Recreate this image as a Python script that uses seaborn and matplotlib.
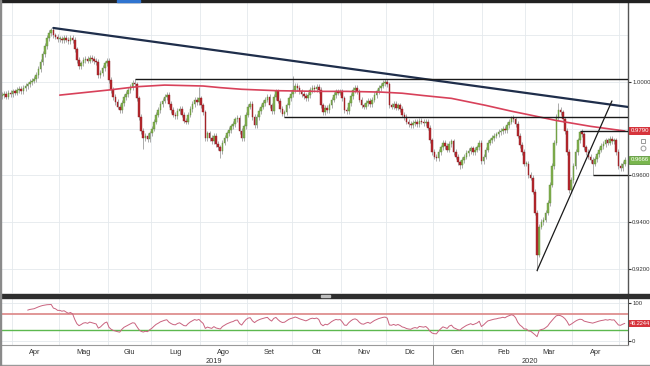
import numpy as np
import pandas as pd
import matplotlib
matplotlib.use("Agg")
import matplotlib.pyplot as plt
import matplotlib.transforms as mtransforms
from matplotlib.patches import Rectangle
from matplotlib.lines import Line2D
import seaborn as sns

# ---------------- data ----------------
first_open = 0.9940
close_mar19 = [0.9945, 0.9950, 0.9938, 0.9952, 0.9948]
close_apr19 = [0.9960, 0.9955, 0.9965, 0.9972, 0.9962, 0.9975, 0.9982, 0.9990, 1.0000, 1.0006,
               1.0012, 1.0030, 1.0055, 1.0085, 1.0120, 1.0155, 1.0190, 1.0210, 1.0222, 1.0200,
               1.0195, 1.0185]
close_may19 = [1.0185, 1.0180, 1.0190, 1.0182, 1.0175, 1.0188, 1.0180, 1.0140, 1.0095, 1.0068,
               1.0080, 1.0095, 1.0100, 1.0092, 1.0105, 1.0098, 1.0090, 1.0085, 1.0030, 1.0040,
               1.0060, 1.0080, 1.0090]
close_jun19 = [1.0010, 0.9965, 0.9935, 0.9915, 0.9895, 0.9880, 0.9910, 0.9935, 0.9950, 0.9965,
               0.9980, 0.9995, 0.9990, 0.9930, 0.9850, 0.9790, 0.9760, 0.9770, 0.9755, 0.9780]
close_jul19 = [0.9800, 0.9830, 0.9860, 0.9880, 0.9905, 0.9920, 0.9935, 0.9945, 0.9905, 0.9880,
               0.9860, 0.9855, 0.9875, 0.9885, 0.9860, 0.9835, 0.9830, 0.9860, 0.9885, 0.9905,
               0.9925, 0.9915, 0.9930]
close_aug19 = [0.9900, 0.9870, 0.9760, 0.9780, 0.9760, 0.9745, 0.9770, 0.9735, 0.9720, 0.9705,
               0.9740, 0.9760, 0.9780, 0.9795, 0.9810, 0.9820, 0.9840, 0.9845, 0.9790, 0.9760,
               0.9810, 0.9860]
close_sep19 = [0.9895, 0.9905, 0.9850, 0.9815, 0.9850, 0.9875, 0.9895, 0.9910, 0.9925, 0.9935,
               0.9900, 0.9875, 0.9935, 0.9960, 0.9920, 0.9885, 0.9865, 0.9870, 0.9900, 0.9930,
               0.9950]
close_oct19 = [0.9965, 0.9985, 0.9975, 0.9960, 0.9950, 0.9940, 0.9930, 0.9945, 0.9965, 0.9975,
               0.9970, 0.9980, 0.9965, 0.9900, 0.9870, 0.9890, 0.9880, 0.9900, 0.9925, 0.9945,
               0.9960, 0.9955, 0.9960]
close_nov19 = [0.9930, 0.9880, 0.9875, 0.9910, 0.9940, 0.9965, 0.9975, 0.9960, 0.9925, 0.9900,
               0.9895, 0.9910, 0.9920, 0.9905, 0.9925, 0.9945, 0.9960, 0.9975, 0.9985, 0.9995,
               1.0000]
close_dec19 = [0.9990, 0.9900, 0.9895, 0.9905, 0.9890, 0.9900, 0.9885, 0.9860, 0.9850, 0.9830,
               0.9820, 0.9815, 0.9825, 0.9830, 0.9820, 0.9835, 0.9830, 0.9825, 0.9830, 0.9805,
               0.9750, 0.9700]
close_jan20 = [0.9680, 0.9675, 0.9700, 0.9720, 0.9740, 0.9725, 0.9710, 0.9735, 0.9745, 0.9700,
               0.9680, 0.9655, 0.9645, 0.9665, 0.9680, 0.9695, 0.9705, 0.9715, 0.9700, 0.9710,
               0.9720, 0.9740, 0.9660]
close_feb20 = [0.9680, 0.9710, 0.9740, 0.9750, 0.9760, 0.9770, 0.9775, 0.9785, 0.9790, 0.9800,
               0.9795, 0.9815, 0.9830, 0.9845, 0.9840, 0.9820, 0.9770, 0.9730, 0.9700, 0.9650]
close_mar20 = [0.9650, 0.9600, 0.9590, 0.9530, 0.9440, 0.9260, 0.9380, 0.9400, 0.9410, 0.9440,
               0.9480, 0.9560, 0.9640, 0.9740, 0.9850, 0.9880, 0.9870, 0.9840, 0.9790, 0.9700,
               0.9535, 0.9580]
close_apr20 = [0.9640, 0.9700, 0.9750, 0.9785, 0.9775, 0.9720, 0.9700, 0.9680, 0.9665, 0.9650,
               0.9670, 0.9690, 0.9710, 0.9725, 0.9735, 0.9750, 0.9740, 0.9755, 0.9745, 0.9750,
               0.9700, 0.9640]
close_may20 = [0.9630, 0.9650, 0.9666]

high_marks = {"2019-04-26": 1.0232, "2019-06-19": 1.0013, "2019-07-31": 0.9980,
              "2019-10-01": 1.0027, "2019-11-29": 1.0013, "2020-02-20": 0.9855,
              "2020-03-23": 0.9912, "2020-04-06": 0.9792}
low_marks = {"2019-06-25": 0.9712, "2019-08-14": 0.9675, "2019-09-25": 0.9852,
             "2020-01-17": 0.9628, "2020-03-09": 0.9191, "2020-04-14": 0.9600}

ma_dates = ["2019-05-01", "2019-06-03", "2019-06-20", "2019-07-09", "2019-08-02", "2019-08-14",
            "2019-08-28", "2019-09-19", "2019-10-17", "2019-11-05", "2019-11-27", "2019-12-11",
            "2019-12-25", "2020-01-13", "2020-02-04", "2020-02-20", "2020-03-03", "2020-03-20",
            "2020-04-13", "2020-05-05"]
ma_values = [0.9944, 0.9966, 0.9980, 0.9987, 0.9983, 0.9976, 0.9969, 0.9963, 0.9960, 0.9960,
             0.9957, 0.9952, 0.9942, 0.9930, 0.9900, 0.9875, 0.9860, 0.9835, 0.9810, 0.9790]

trend_down = [("2019-04-26", 1.0232), ("2020-05-05", 0.9895)]
trend_up = [("2020-03-09", 0.9191), ("2020-04-27", 0.9919)]
resist_1 = ("2019-06-19", 1.0013)
resist_2 = ("2019-09-25", 0.9852)
box_top = ("2020-04-06", 0.9790)
box_bottom = ("2020-04-14", 0.9600)

month_labels = ["Apr", "Mag", "Giu", "Lug", "Ago", "Set", "Ott", "Nov", "Dic",
                "Gen", "Feb", "Mar", "Apr"]
year_labels = ["2019", "2020"]
price_ticks = [0.9200, 0.9400, 0.9600, 0.9800, 1.0000]
price_tick_labels = ["0.9200", "0.9400", "0.9600", "", "1.0000"]
price_grid = [0.92, 0.94, 0.96, 0.98, 1.00, 1.02]
rsi_ticks = [0, 100]
rsi_bands = [70, 30]
last_price_label = "0.9666"
last_price_value = 0.9666
ma_label = "0.9790"
ma_label_value = 0.9790
rsi_label = "46.2244"
rsi_label_value = 46.2244
wick = 0.0012

# ---------------- preparation ----------------
sns.set_style("white")
narrow = ["Noto Sans ExtraCondensed", "Noto Sans Condensed", "Liberation Sans Narrow",
          "Liberation Sans", "DejaVu Sans"]
plt.rcParams["font.family"] = narrow

close = np.array(close_mar19 + close_apr19 + close_may19 + close_jun19 + close_jul19 +
                 close_aug19 + close_sep19 + close_oct19 + close_nov19 + close_dec19 +
                 close_jan20 + close_feb20 + close_mar20 + close_apr20 + close_may20)
dates = pd.bdate_range("2019-03-25", "2020-05-05")
n = min(len(close), len(dates))
close = close[:n]
dates = dates[:n]
pos = np.arange(n)
idx = {d.strftime("%Y-%m-%d"): i for i, d in enumerate(dates)}

opn = np.r_[first_open, close[:-1]]
hi = np.maximum(opn, close) + wick
lo = np.minimum(opn, close) - wick
for d, v in high_marks.items():
    if d in idx:
        hi[idx[d]] = max(v, max(opn[idx[d]], close[idx[d]]))
for d, v in low_marks.items():
    if d in idx:
        lo[idx[d]] = min(v, min(opn[idx[d]], close[idx[d]]))

s = pd.Series(close)
delta = s.diff()
gain = delta.clip(lower=0)
loss = (-delta).clip(lower=0)
ag = gain.ewm(alpha=1 / 14, adjust=False, min_periods=12).mean()
al = loss.ewm(alpha=1 / 14, adjust=False, min_periods=12).mean()
rsi = (100 - 100 / (1 + ag / al)).to_numpy()

month_starts = [i for i in range(1, n) if dates[i].month != dates[i - 1].month]
jan_start = [i for i in month_starts if dates[i].month == 1][0]

W, H = 650, 366
fig = plt.figure(figsize=(W / 100, H / 100), dpi=100)
fig.patch.set_facecolor("white")
ax = fig.add_axes([0, 73 / H, 628 / W, 293 / H])
ax2 = fig.add_axes([0, 21 / H, 628 / W, 47 / H], sharex=ax)

xl, xr = -0.93, 292.5
ax.set_xlim(xl, xr)
ax.set_ylim(0.9095, 1.0352)
ax2.set_ylim(-10.5, 113.2)

# grid
for g in price_grid:
    ax.axhline(g, color="#e4e9ed", lw=0.6, zorder=0)
for m in month_starts:
    ax.axvline(m - 0.5, color="#e4e9ed", lw=0.6, zorder=0)
    ax2.axvline(m - 0.5, color="#e4e9ed", lw=0.6, zorder=0)
for g in rsi_ticks:
    ax2.axhline(g, color="#e4e9ed", lw=0.6, zorder=0)

# candles
up = close >= opn
ax.vlines(pos, lo, hi, color="#9d9d9d", lw=0.6, zorder=2)
body_bottom = np.minimum(opn, close)
body_h = np.maximum(np.abs(close - opn), 0.0004)
ax.bar(pos[up], body_h[up], bottom=body_bottom[up], width=0.75, color="#83b150",
       edgecolor="#5d8c37", linewidth=0.3, zorder=3)
ax.bar(pos[~up], body_h[~up], bottom=body_bottom[~up], width=0.75, color="#b8282e",
       edgecolor="#8a1d22", linewidth=0.3, zorder=3)

# moving average
ma_pos = [idx[d] for d in ma_dates]
sns.lineplot(x=ma_pos, y=ma_values, ax=ax, color="#d8415a", lw=1.2, zorder=4)

# trend lines
p0, v0 = idx[trend_down[0][0]], trend_down[0][1]
p1, v1 = idx[trend_down[1][0]], trend_down[1][1]
slope = (v1 - v0) / (p1 - p0)
sns.lineplot(x=[p0, xr], y=[v0, v0 + slope * (xr - p0)], ax=ax, color="#1f2e4b", lw=1.6, zorder=5)
sns.lineplot(x=[idx[trend_up[0][0]], idx[trend_up[1][0]]], y=[trend_up[0][1], trend_up[1][1]],
             ax=ax, color="#1a1a1a", lw=0.9, zorder=5)
for d, v in (resist_1, resist_2, box_top, box_bottom):
    ax.hlines(v, idx[d], xr, colors="#1a1a1a", lw=1.0, zorder=5)

# axes styling main
lab_fs = 4.3
for sp in ("top", "bottom"):
    ax.spines[sp].set_visible(False)
ax.spines["left"].set_color("#8c8c8c")
ax.spines["right"].set_color("#555555")
ax.spines["right"].set_linewidth(1.0)
ax.yaxis.set_ticks_position("right")
ax.set_yticks(price_ticks)
ax.set_yticklabels(price_tick_labels)
ax.tick_params(axis="y", which="both", left=False, right=True, length=2.2, width=0.8,
               pad=0.8, labelsize=lab_fs, colors="#333333", direction="out")
ax.tick_params(axis="x", bottom=False, labelbottom=False)
ax.set_xlabel("")
ax.set_ylabel("")

tr_main = mtransforms.blended_transform_factory(ax.transAxes, ax.transData)
ax.text(1.005, ma_label_value, ma_label, transform=tr_main, fontsize=lab_fs, color="white",
        va="center", ha="left", clip_on=False, zorder=10,
        bbox=dict(boxstyle="square,pad=0.3", fc="#d6343c", ec="none"))
ax.text(1.005, last_price_value, last_price_label, transform=tr_main, fontsize=lab_fs,
        color="white", va="center", ha="left", clip_on=False, zorder=10,
        bbox=dict(boxstyle="square,pad=0.3", fc="#79b64d", ec="#4d8a2c", lw=0.5))

# RSI panel
sns.lineplot(x=pos, y=rsi, ax=ax2, color="#c9637f", lw=0.7, zorder=4)
ax2.axhline(rsi_bands[0], color="#dc8585", lw=1.2, zorder=3)
ax2.axhline(rsi_bands[1], color="#5cb84f", lw=1.0, zorder=3)
ax2.spines["top"].set_visible(False)
ax2.spines["left"].set_color("#8c8c8c")
ax2.spines["right"].set_color("#555555")
ax2.spines["bottom"].set_color("#9a9a9a")
ax2.yaxis.set_ticks_position("right")
ax2.set_yticks(rsi_ticks)
ax2.set_yticklabels([str(t) for t in rsi_ticks])
ax2.tick_params(axis="y", which="both", left=False, right=True, length=2.2, width=0.8,
                pad=0.8, labelsize=lab_fs, colors="#333333")
ax2.set_xticks([m - 0.5 for m in month_starts])
ax2.set_xticklabels([])
ax2.tick_params(axis="x", length=3, width=0.7, colors="#777777", direction="out")
ax2.set_xlabel("")
ax2.set_ylabel("")
tr_rsi = mtransforms.blended_transform_factory(ax2.transAxes, ax2.transData)
ax2.text(1.003, rsi_label_value, rsi_label, transform=tr_rsi, fontsize=4.0, color="white",
         va="center", ha="left", clip_on=False, zorder=10,
         bbox=dict(boxstyle="square,pad=0.2", fc="#d6343c", ec="none"))

# month / year labels
tr_x = mtransforms.blended_transform_factory(ax2.transData, ax2.transAxes)
for k, lab in enumerate(month_labels):
    mid = (month_starts[k] + month_starts[k + 1]) / 2 - 0.5
    ax2.text(mid, -0.16, lab, transform=tr_x, fontsize=5.3, color="#333333",
             ha="center", va="center", clip_on=False)
ax2.text(jan_start / 2 - 2, -0.36, year_labels[0], transform=tr_x, fontsize=5.3,
         color="#333333", ha="center", va="center", clip_on=False)
ax2.text((jan_start + n - 1) / 2, -0.36, year_labels[1], transform=tr_x, fontsize=5.3,
         color="#333333", ha="center", va="center", clip_on=False)
ax2.plot([jan_start - 0.5] * 2, [0, -0.42], transform=tr_x, color="#888888", lw=0.7,
         clip_on=False)

# frame decorations
fig.add_artist(Rectangle((0, 1 - 1.5 / H), 1, 1.5 / H, transform=fig.transFigure,
                         color="#222222", zorder=20))
fig.add_artist(Rectangle((117 / W, 1 - 1.8 / H), 23 / W, 1.8 / H, transform=fig.transFigure,
                         color="#2f74d0", zorder=21))
fig.add_artist(Rectangle((0, 1 - 297.5 / H), 1, 3.5 / H, transform=fig.transFigure,
                         color="#2e2e2e", zorder=20))
fig.add_artist(Rectangle((321 / W, 1 - 297 / H), 9 / W, 2 / H, transform=fig.transFigure,
                         color="#bdbdbd", zorder=21))
fig.add_artist(Rectangle((0, 0), 1, 1.2 / H, transform=fig.transFigure,
                         color="#9a9a9a", zorder=20))
fig.add_artist(Rectangle((0, 0), 1.2 / W, 1, transform=fig.transFigure,
                         color="#8a8a8a", zorder=20))
fig.add_artist(Line2D([643 / W], [1 - 141 / H], marker="s", mfc="none", mec="#9a9a9a",
                      ms=3.5, mew=0.7, transform=fig.transFigure))
fig.add_artist(Line2D([643 / W], [1 - 148 / H], marker="o", mfc="none", mec="#9a9a9a",
                      ms=3.5, mew=0.7, transform=fig.transFigure))

fig.savefig("out.png", dpi=100)
